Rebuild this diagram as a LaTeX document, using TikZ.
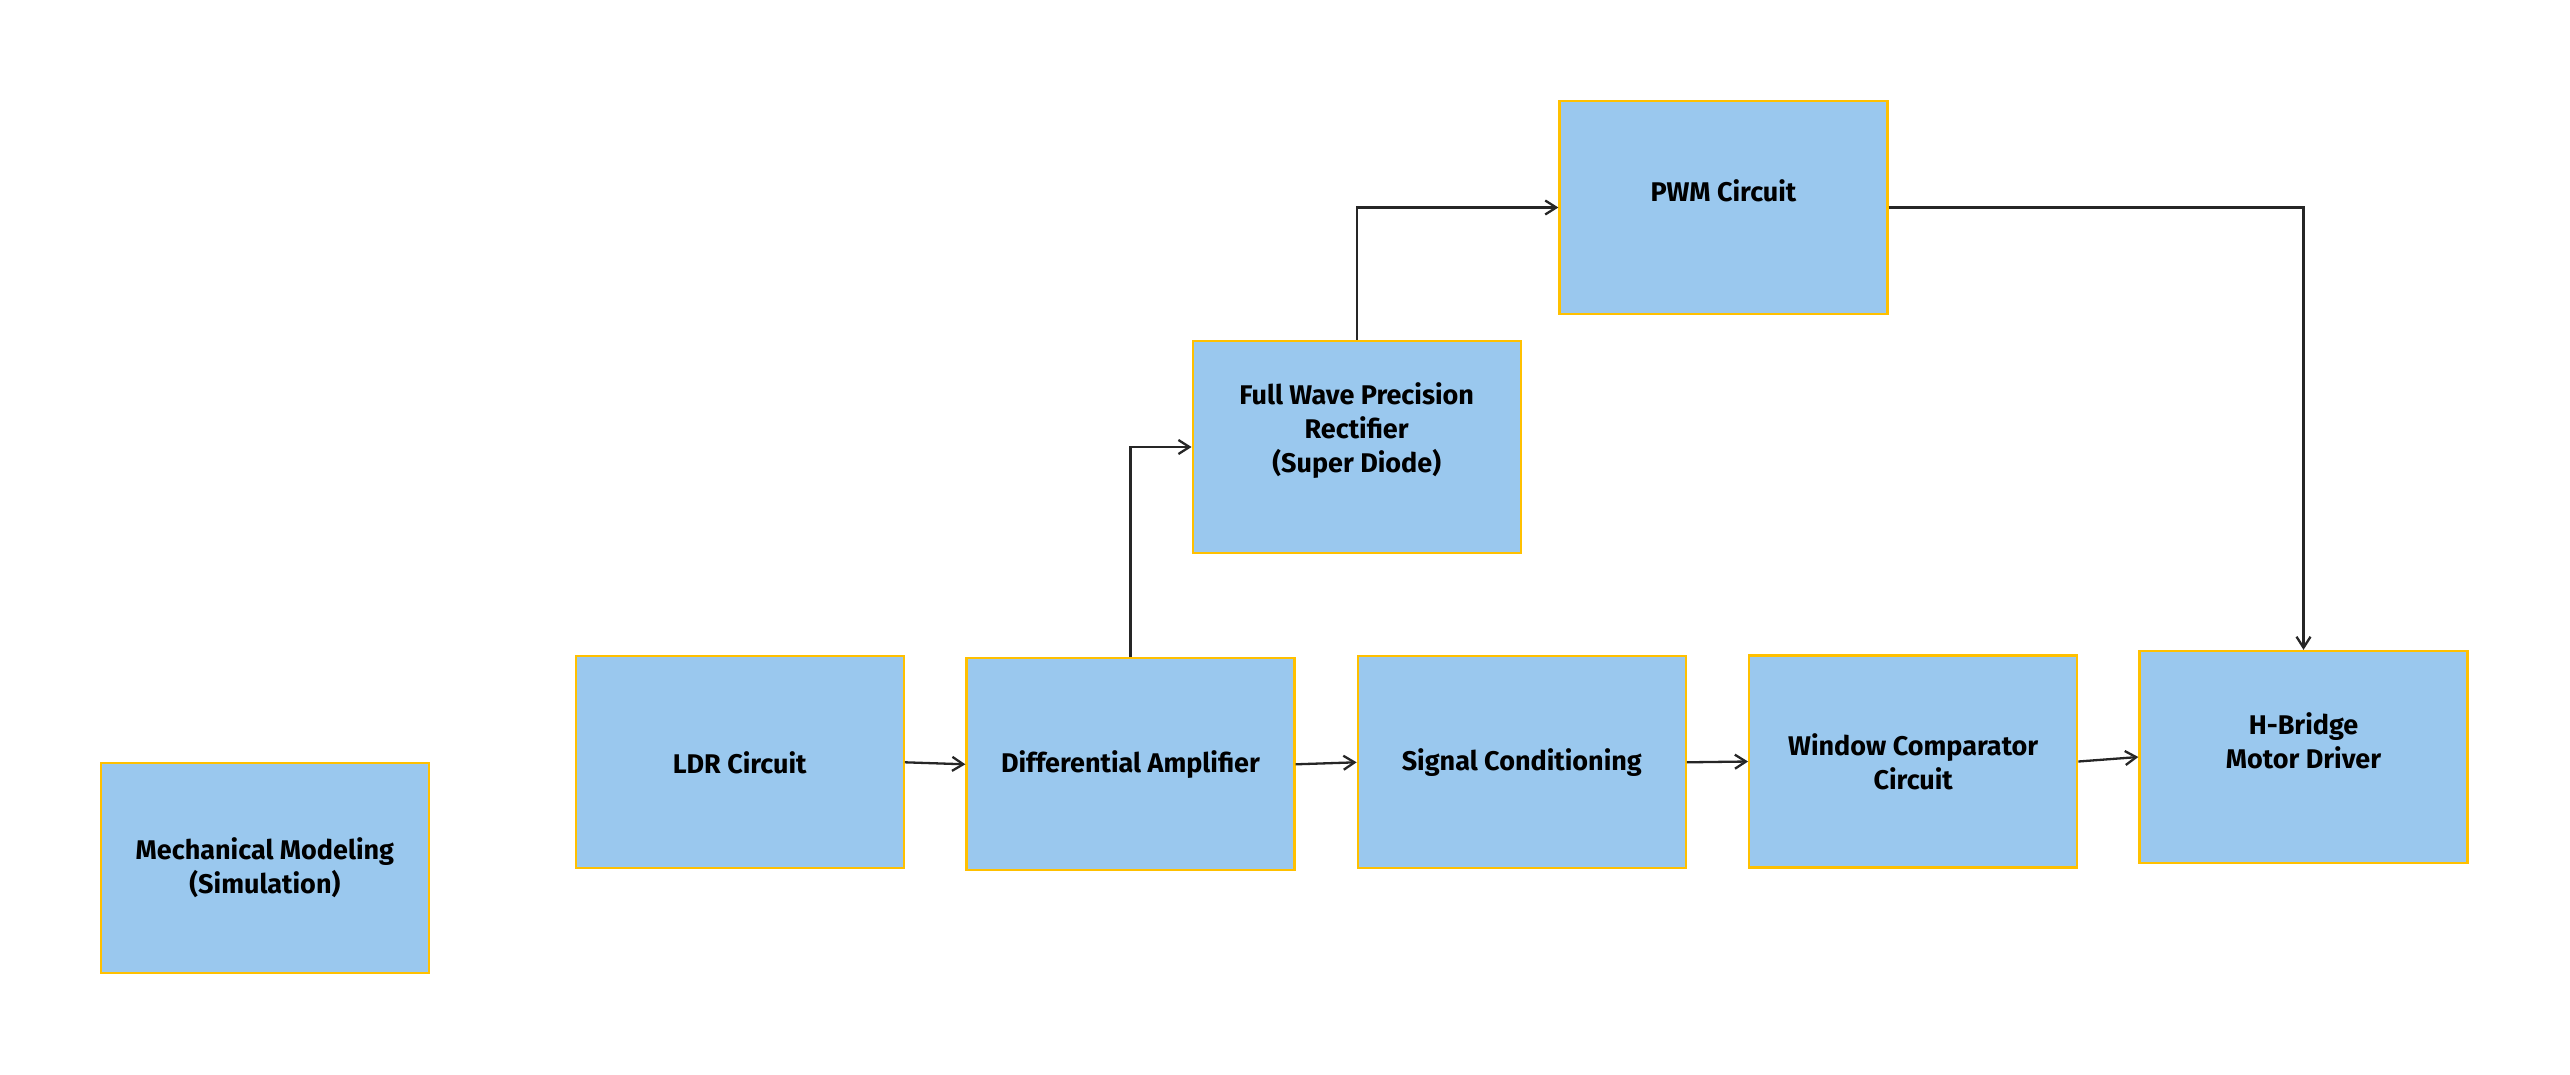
\documentclass[tikz,border=0pt]{standalone}
\usepackage{fontspec}
\setmainfont{Fira Sans}
\usetikzlibrary{arrows.meta,calc}
\definecolor{boxfill}{HTML}{9AC8EE}
\definecolor{boxline}{HTML}{FFC000}
\definecolor{wire}{HTML}{262626}
\tikzset{
  blk/.style={draw=boxline, fill=boxfill, line width=2.3pt, minimum width=328pt, minimum height=212pt, inner sep=0pt},
  txt/.style={align=center, font=\fontsize{27}{34}\selectfont\bfseries, text=black, inner sep=0pt},
  conn/.style={draw=wire, line width=2.3pt, -{Straight Barb[length=11pt,width=14pt,line width=2.3pt]}}
}
\begin{document}
\begin{tikzpicture}[x=1pt,y=-1pt]
\useasboundingbox (0,0) rectangle (2570,1074);
% boxes
\node[blk, minimum height=210pt] (mech) at (264.9,868) {};
\node[blk] (ldr)  at (739.7,762.3) {};
\node[blk] (diff) at (1130.5,764.3) {};
\node[blk] (sig)  at (1521.8,762.3) {};
\node[blk] (win)  at (1913.2,761.5) {};
\node[blk] (hb)   at (2303.5,757) {};
\node[blk] (rect) at (1356.7,447) {};
\node[blk, minimum height=213pt] (pwm) at (1723.5,207.5) {};
% texts
\node[txt] (mecht) at (264.9,868) {Mechanical Modeling\\(Simulation)};
\node[txt] (ldrt)  at (739.7,762.5) {LDR Circuit};
\node[txt] (difft) at (1130.5,765) {Differential Amplifier};
\node[txt] (sigt)  at (1521.8,762.3) {Signal Conditioning};
\node[txt] (wint)  at (1913.2,761.7) {Window Comparator\\Circuit};
\node[txt] (hbt)   at (2303.5,740.5) {H-Bridge\\Motor Driver};
\node[txt] (rectt) at (1356.7,431) {Full Wave Precision\\Rectifier\\(Super Diode)};
\node[txt] (pwmt)  at (1723.5,190.7) {PWM Circuit};
% connectors
\draw[conn] (ldr.east) -- (diff.west);
\draw[conn] (diff.east) -- (sig.west);
\draw[conn] (sig.east) -- (win.west);
\draw[conn] (win.east) -- (hb.west);
\draw[conn] (diff.north) |- (rect.west);
\draw[conn] (rect.north) |- (pwm.west);
\draw[conn] (pwm.east) -| (hb.north);
\end{tikzpicture}
\end{document}
